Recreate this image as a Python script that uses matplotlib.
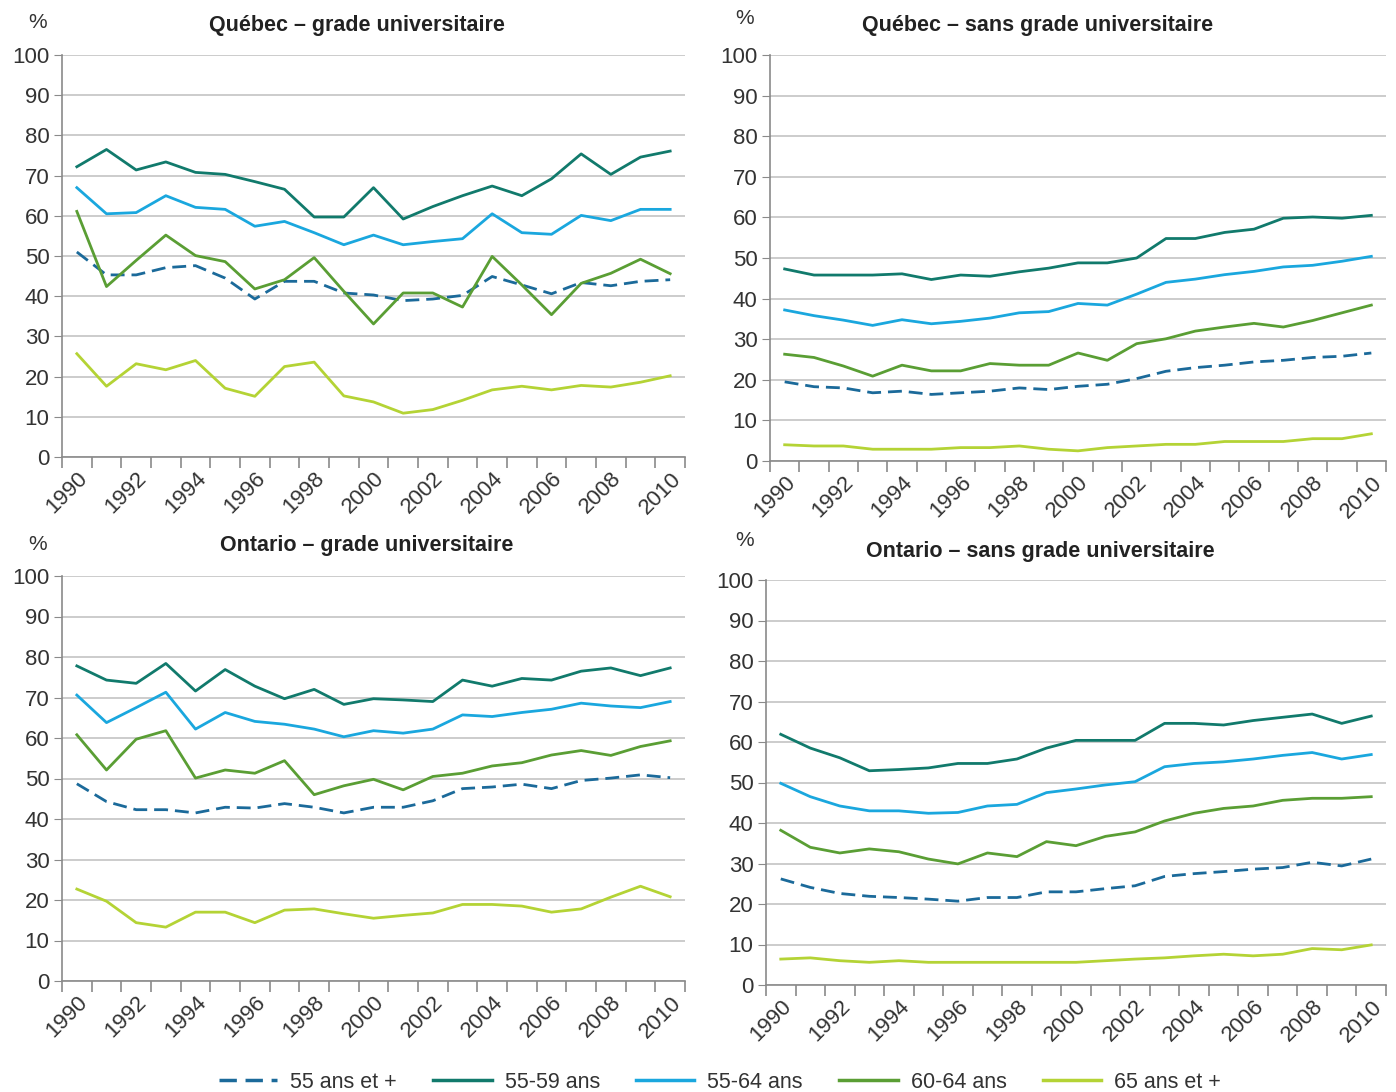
import matplotlib
matplotlib.use("Agg")
import matplotlib.pyplot as plt
from matplotlib.lines import Line2D
import numpy as np

plt.rcParams['font.family'] = ['Liberation Sans Narrow', 'Liberation Sans', 'DejaVu Sans']

years = list(range(1990, 2011))
series_names = ["55 ans et +", "55-59 ans", "55-64 ans", "60-64 ans", "65 ans et +"]
colors = ["#1b6a9a", "#117a6c", "#1aa7de", "#5a9e34", "#b4d335"]
styles = [(0, (5, 2.5)), "-", "-", "-", "-"]

# Québec - grade universitaire
qc_univ_55p = [51.0, 45.3, 45.3, 47.1, 47.6, 44.5, 39.3, 43.7, 43.7, 40.8, 40.3,
               38.9, 39.3, 40.2, 44.9, 42.8, 40.6, 43.4, 42.6, 43.7, 44.1]
qc_univ_5559 = [72.2, 76.5, 71.4, 73.4, 70.8, 70.3, 68.5, 66.6, 59.7, 59.7, 67.0,
                59.2, 62.3, 65.0, 67.4, 65.0, 69.2, 75.4, 70.3, 74.6, 76.1]
qc_univ_5564 = [67.0, 60.5, 60.8, 65.0, 62.1, 61.6, 57.4, 58.6, 55.8, 52.8, 55.2,
                52.8, 53.6, 54.3, 60.5, 55.8, 55.4, 60.1, 58.8, 61.6, 61.6]
qc_univ_6064 = [61.1, 42.4, 48.9, 55.2, 50.1, 48.6, 41.8, 44.1, 49.6, 41.2, 33.1,
                40.8, 40.8, 37.3, 49.9, 42.8, 35.4, 43.2, 45.7, 49.2, 45.6]
qc_univ_65p = [25.7, 17.6, 23.2, 21.7, 24.0, 17.1, 15.1, 22.5, 23.6, 15.2, 13.7,
               10.9, 11.8, 14.1, 16.7, 17.6, 16.7, 17.8, 17.4, 18.6, 20.2]

# Québec - sans grade universitaire
qc_sans_55p = [19.5, 18.3, 18.0, 16.8, 17.2, 16.4, 16.8, 17.2, 18.0, 17.6, 18.4,
               18.9, 20.3, 22.1, 23.0, 23.6, 24.4, 24.8, 25.5, 25.8, 26.6]
qc_sans_5559 = [47.3, 45.8, 45.8, 45.8, 46.1, 44.7, 45.8, 45.5, 46.6, 47.5, 48.8,
                48.8, 50.0, 54.8, 54.8, 56.3, 57.1, 59.8, 60.1, 59.8, 60.5]
qc_sans_5564 = [37.2, 35.8, 34.7, 33.4, 34.8, 33.8, 34.4, 35.2, 36.5, 36.8, 38.8,
                38.4, 41.1, 44.0, 44.8, 45.9, 46.7, 47.8, 48.2, 49.2, 50.4]
qc_sans_6064 = [26.3, 25.5, 23.4, 20.9, 23.6, 22.2, 22.2, 24.0, 23.6, 23.6, 26.6,
                24.8, 28.9, 30.1, 32.0, 33.0, 33.9, 33.0, 34.6, 36.5, 38.4]
qc_sans_65p = [4.0, 3.7, 3.7, 2.9, 2.9, 2.9, 3.3, 3.3, 3.7, 2.9, 2.5,
               3.3, 3.7, 4.1, 4.1, 4.8, 4.8, 4.8, 5.5, 5.5, 6.7]

# Ontario - grade universitaire
on_univ_55p = [48.7, 44.3, 42.3, 42.3, 41.5, 42.9, 42.7, 43.8, 42.9, 41.5, 42.9,
               42.9, 44.5, 47.5, 47.9, 48.6, 47.5, 49.5, 50.1, 50.9, 50.2]
on_univ_5559 = [77.8, 74.3, 73.5, 78.4, 71.6, 76.9, 72.8, 69.7, 72.0, 68.3, 69.7,
                69.4, 69.0, 74.3, 72.8, 74.7, 74.3, 76.5, 77.3, 75.4, 77.3]
on_univ_5564 = [70.6, 63.8, 67.5, 71.3, 62.2, 66.3, 64.1, 63.4, 62.2, 60.3, 61.8,
                61.2, 62.2, 65.7, 65.3, 66.3, 67.1, 68.6, 67.9, 67.5, 69.0]
on_univ_6064 = [60.8, 52.1, 59.7, 61.8, 50.1, 52.1, 51.3, 54.4, 46.0, 48.2, 49.8,
                47.2, 50.5, 51.3, 53.1, 53.9, 55.8, 56.9, 55.7, 57.9, 59.3]
on_univ_65p = [22.7, 19.7, 14.4, 13.3, 17.0, 17.0, 14.4, 17.5, 17.8, 16.6, 15.5,
               16.2, 16.8, 18.9, 18.9, 18.5, 17.0, 17.8, 20.7, 23.4, 20.8]

# Ontario - sans grade universitaire
on_sans_55p = [26.2, 24.1, 22.6, 21.9, 21.6, 21.2, 20.7, 21.6, 21.6, 23.0, 23.0,
               23.8, 24.5, 26.8, 27.5, 28.0, 28.6, 29.0, 30.3, 29.4, 31.1]
on_sans_5559 = [61.9, 58.5, 56.1, 52.9, 53.2, 53.6, 54.7, 54.7, 55.8, 58.5, 60.4,
                60.4, 60.4, 64.6, 64.6, 64.2, 65.3, 66.1, 66.9, 64.6, 66.4]
on_sans_5564 = [49.8, 46.5, 44.2, 43.0, 43.0, 42.4, 42.6, 44.2, 44.6, 47.5, 48.4,
                49.4, 50.2, 53.9, 54.7, 55.1, 55.8, 56.7, 57.4, 55.8, 56.9]
on_sans_6064 = [38.2, 34.0, 32.6, 33.6, 32.9, 31.1, 29.9, 32.6, 31.7, 35.4, 34.4,
                36.7, 37.8, 40.5, 42.4, 43.6, 44.2, 45.6, 46.1, 46.1, 46.5]
on_sans_65p = [6.4, 6.7, 6.0, 5.6, 6.0, 5.6, 5.6, 5.6, 5.6, 5.6, 5.6,
               6.0, 6.4, 6.7, 7.2, 7.6, 7.2, 7.6, 9.0, 8.7, 9.9]

panels = [
    ("Québec – grade universitaire",
     [qc_univ_55p, qc_univ_5559, qc_univ_5564, qc_univ_6064, qc_univ_65p]),
    ("Québec – sans grade universitaire",
     [qc_sans_55p, qc_sans_5559, qc_sans_5564, qc_sans_6064, qc_sans_65p]),
    ("Ontario – grade universitaire",
     [on_univ_55p, on_univ_5559, on_univ_5564, on_univ_6064, on_univ_65p]),
    ("Ontario – sans grade universitaire",
     [on_sans_55p, on_sans_5559, on_sans_5564, on_sans_6064, on_sans_65p]),
]

W, H = 1396, 1092
# pixel boxes: left, right, top(100), bottom(0); title centre x,y; % x,y
boxes = [
    (62, 685, 55, 457, 357, 25, 38, 22),
    (770, 1386, 55, 461, 1038, 25, 745, 19),
    (62, 685, 576, 981, 367, 546, 38, 544),
    (766, 1386, 580, 985, 1040, 551, 745, 540),
]

fig = plt.figure(figsize=(W / 100, H / 100), dpi=100)
text_col = "#333333"
x = np.arange(len(years))

for (title, data), (l, r, t, b, tx, ty, px, py) in zip(panels, boxes):
    ax = fig.add_axes([l / W, 1 - b / H, (r - l) / W, (b - t) / H])
    for vals, c, ls in zip(data, colors, styles):
        ax.plot(x, vals, color=c, lw=2.0, ls=ls, zorder=3)
    ax.set_xlim(-0.5, len(years) - 0.5)
    ax.set_ylim(0, 100)
    ax.set_yticks(range(0, 101, 10))
    ax.yaxis.grid(True, color="#c8c8c8", lw=1.3)
    ax.set_axisbelow(True)
    for s in ["top", "right"]:
        ax.spines[s].set_visible(False)
    for s in ["left", "bottom"]:
        ax.spines[s].set_color("#8a8a8a")
        ax.spines[s].set_linewidth(1.2)
    ax.tick_params(axis="y", length=6, color="#8a8a8a", labelsize=16,
                   labelcolor=text_col, pad=3)
    ax.set_xticks(x[::2])
    ax.set_xticklabels([str(yr) for yr in years[::2]], rotation=45,
                       ha="right", va="top", rotation_mode="anchor")
    ax.set_xticks(np.arange(-0.5, len(years)), minor=True)
    ax.tick_params(axis="x", which="major", length=0, labelsize=16,
                   labelcolor=text_col, pad=8)
    ax.tick_params(axis="x", which="minor", length=8, color="#8a8a8a", width=1.2)
    fig.text(tx / W, 1 - ty / H, title, ha="center", va="center",
             fontsize=15.5, fontweight="bold", color="#222222")
    fig.text(px / W, 1 - py / H, "%", ha="center", va="center",
             fontsize=15, color=text_col)

handles = [Line2D([0], [0], color=c, lw=2.5, ls=ls) for c, ls in zip(colors, styles)]
fig.legend(handles, series_names, loc="center", bbox_to_anchor=(720 / W, 1 - 1082 / H),
           ncol=5, frameon=False, fontsize=15.5, handlelength=2.7, handletextpad=0.6,
           columnspacing=1.7, labelcolor=text_col)

fig.savefig("out.png", dpi=100)
